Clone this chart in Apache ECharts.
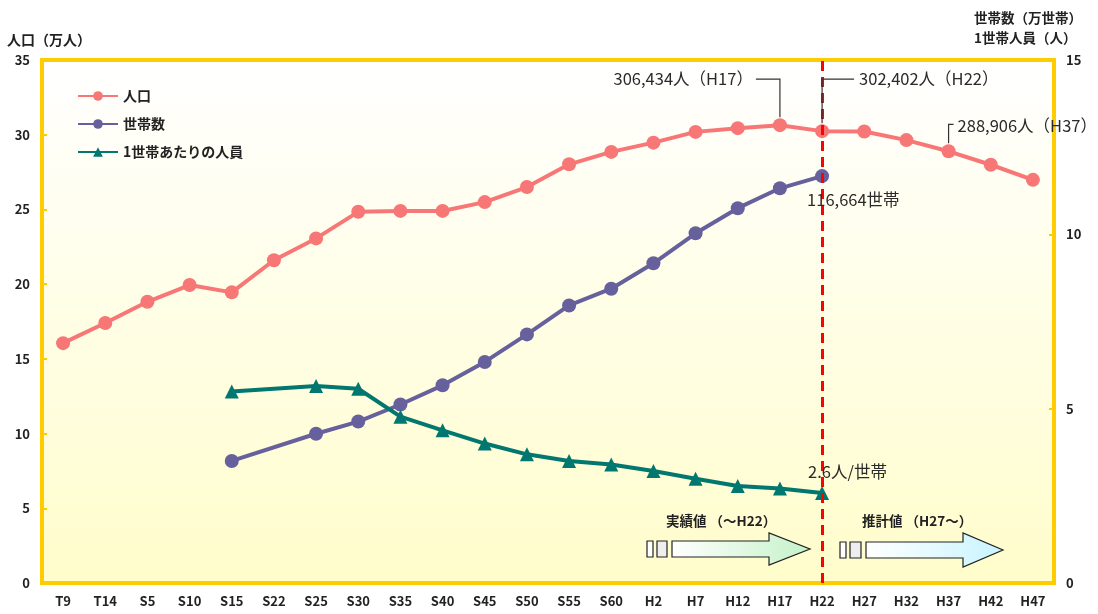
<!DOCTYPE html>
<html><head><meta charset="utf-8">
<script src="https://cdn.jsdelivr.net/npm/echarts@6/dist/echarts.min.js"></script>
<style>html,body{margin:0;padding:0;background:#fff}#c{width:1098px;height:614px}</style>
</head><body><div id="c"></div>
<script>
const categories = ['T9','T14','S5','S10','S15','S22','S25','S30','S35','S40','S45','S50','S55','S60','H2','H7','H12','H17','H22','H27','H32','H37','H42','H47'];
const population = [16.05,17.4,18.82,19.94,19.45,21.6,23.06,24.84,24.9,24.9,25.49,26.5,28.02,28.85,29.47,30.19,30.44,30.64,30.24,30.22,29.64,28.89,27.99,26.98];
const households = [null,null,null,null,3.5,null,4.28,4.63,5.12,5.67,6.34,7.13,7.96,8.44,9.17,10.03,10.75,11.32,11.67,null,null,null,null,null];
const perHousehold = [null,null,null,null,5.49,null,5.65,5.57,4.77,4.38,4.0,3.69,3.5,3.4,3.21,2.99,2.78,2.71,2.58,null,null,null,null,null];
const leftTicks = {min:0,max:35,interval:5};
const rightTicks = {min:0,max:15,interval:5};

const FONT = '"Noto Sans CJK JP", "Noto Sans", sans-serif';
const YEL = '#FFCC00';
const chart = echarts.init(document.getElementById('c'));
const labelStyle = {fontFamily: FONT, fontSize: 13, fontWeight: 'bold', color: '#222'};

chart.setOption({
  animation: false,
  grid: {left: 42, right: 44, top: 60, bottom: 31, show: true, borderWidth: 4, borderColor: YEL,
    backgroundColor: {type: 'linear', x: 0, y: 0, x2: 0, y2: 1, colorStops: [{offset: 0, color: '#FFFFFF'}, {offset: 1, color: '#FFFDCB'}]}},
  legend: {orient: 'vertical', left: 72, top: 84, itemWidth: 40, itemHeight: 12, itemGap: 14,
    textStyle: {fontFamily: FONT, fontSize: 14, fontWeight: 'bold', color: '#222'},
    data: ['人口', '世帯数', '1世帯あたりの人員']},
  xAxis: {type: 'category', data: categories, boundaryGap: true,
    axisLine: {lineStyle: {color: YEL, width: 4}},
    axisTick: {inside: true, length: 5, lineStyle: {color: YEL, width: 2}},
    axisLabel: Object.assign({margin: 12, interval: 0}, labelStyle)},
  yAxis: [
    {type: 'value', min: leftTicks.min, max: leftTicks.max, interval: leftTicks.interval,
      axisLine: {show: true, lineStyle: {color: YEL, width: 4}},
      axisTick: {show: true, inside: true, length: 5, lineStyle: {color: YEL, width: 2}},
      splitLine: {show: false}, axisLabel: Object.assign({margin: 12}, labelStyle)},
    {type: 'value', min: rightTicks.min, max: rightTicks.max, interval: rightTicks.interval,
      axisLine: {show: true, lineStyle: {color: YEL, width: 4}},
      axisTick: {show: true, inside: true, length: 5, lineStyle: {color: YEL, width: 2}},
      splitLine: {show: false}, axisLabel: Object.assign({margin: 12}, labelStyle)}
  ],
  series: [
    {name: '人口', type: 'line', data: population, yAxisIndex: 0, symbol: 'circle', symbolSize: 14,
      itemStyle: {color: '#F77777'}, lineStyle: {width: 4, color: '#F77777'}, z: 3,
      markLine: {silent: true, symbol: 'none', label: {show: false},
        lineStyle: {color: '#FF0000', width: 3, type: [10, 6]}, data: [{xAxis: 'H22'}]}},
    {name: '世帯数', type: 'line', data: households, yAxisIndex: 1, connectNulls: true, symbol: 'circle', symbolSize: 14,
      itemStyle: {color: '#66619C'}, lineStyle: {width: 4, color: '#66619C'}, z: 3},
    {name: '1世帯あたりの人員', type: 'line', data: perHousehold, yAxisIndex: 1, connectNulls: true, symbol: 'triangle', symbolSize: 14,
      itemStyle: {color: '#00776F'}, lineStyle: {width: 4, color: '#00776F'}, z: 3}
  ]
});

function px(seriesIdx, cat, val) {
  return chart.convertToPixel({seriesIndex: seriesIdx}, [cat, val]);
}
const iH17 = categories.indexOf('H17'), iH22 = categories.indexOf('H22'), iH37 = categories.indexOf('H37');
const pH17 = px(0, 'H17', population[iH17]);
const pH22 = px(0, 'H22', population[iH22]);
const pH37 = px(0, 'H37', population[iH37]);
const hH22 = px(1, 'H22', households[iH22]);
const tH22 = px(2, 'H22', perHousehold[iH22]);

const annStyle = {fontFamily: FONT, fontSize: 16.5, fill: '#2a2a2a'};
const leader = {stroke: '#333', lineWidth: 1.2, fill: null};
function arrowShape(x0, x1, x2, yc, bh, hh) {
  return [[x0, yc - bh], [x1, yc - bh], [x1, yc - hh], [x2, yc], [x1, yc + hh], [x1, yc + bh], [x0, yc + bh]];
}
function grad(c) {
  return {type: 'linear', x: 0, y: 0, x2: 1, y2: 0, colorStops: [{offset: 0, color: '#FFFFFF'}, {offset: 1, color: c}]};
}
const small = {stroke: '#222', lineWidth: 1.2};
const graphics = [
  {type: 'text', left: 7, top: 33, style: {text: '人口（万人）', font: 'bold 14px ' + FONT, fill: '#222'}},
  {type: 'text', right: 16, top: 8, style: {text: '世帯数（万世帯）\n1世帯人員（人）', font: 'bold 13.5px ' + FONT, fill: '#222', align: 'right', lineHeight: 20}},
  // H17 annotation
  {type: 'polyline', shape: {points: [[pH17[0], pH17[1] - 8], [pH17[0], pH17[1] - 46], [pH17[0] - 24, pH17[1] - 46]]}, style: leader, z: 10},
  {type: 'text', x: pH17[0] - 27, y: pH17[1] - 46, style: Object.assign({text: '306,434人（H17）', align: 'right', verticalAlign: 'middle'}, annStyle), z: 10},
  // H22 annotation
  {type: 'polyline', shape: {points: [[pH22[0], pH22[1] - 8], [pH22[0], pH22[1] - 52], [pH22[0] + 32, pH22[1] - 52]]}, style: leader, z: 10},
  {type: 'text', x: pH22[0] + 37, y: pH22[1] - 52, style: Object.assign({text: '302,402人（H22）', align: 'left', verticalAlign: 'middle'}, annStyle), z: 10},
  // H37 annotation
  {type: 'polyline', shape: {points: [[pH37[0], pH37[1] - 8], [pH37[0], pH37[1] - 27], [pH37[0] + 5, pH37[1] - 27]]}, style: leader, z: 10},
  {type: 'text', x: pH37[0] + 9, y: pH37[1] - 26, style: Object.assign({text: '288,906人（H37）', align: 'left', verticalAlign: 'middle'}, annStyle), z: 10},
  {type: 'text', x: hH22[0] - 15, y: hH22[1] + 24, style: Object.assign({text: '116,664世帯', align: 'left', verticalAlign: 'middle'}, annStyle), z: 10},
  {type: 'text', x: tH22[0] - 14, y: tH22[1] - 21, style: Object.assign({text: '2.6人/世帯', align: 'left', verticalAlign: 'middle'}, annStyle), z: 10},
  // arrows
  {type: 'text', x: 666, y: 521, style: {text: '実績値 （～H22）', font: 'bold 13.5px ' + FONT, fill: '#222', verticalAlign: 'middle'}},
  {type: 'rect', shape: {x: 647, y: 541, width: 6, height: 16}, style: Object.assign({fill: '#fff'}, small)},
  {type: 'rect', shape: {x: 657, y: 541, width: 10, height: 16}, style: Object.assign({fill: '#eee'}, small)},
  {type: 'polygon', shape: {points: arrowShape(672, 769, 810, 549, 8, 16)}, style: {fill: grad('#C4F2C8'), stroke: '#222', lineWidth: 1.2}},
  {type: 'text', x: 862, y: 521, style: {text: '推計値 （H27～）', font: 'bold 13.5px ' + FONT, fill: '#222', verticalAlign: 'middle'}},
  {type: 'rect', shape: {x: 840, y: 542, width: 6, height: 16}, style: Object.assign({fill: '#fff'}, small)},
  {type: 'rect', shape: {x: 850, y: 542, width: 11, height: 16}, style: Object.assign({fill: '#eee'}, small)},
  {type: 'polygon', shape: {points: arrowShape(866, 963, 1003, 550, 8, 17)}, style: {fill: grad('#C8F4FF'), stroke: '#222', lineWidth: 1.2}}
];
chart.setOption({graphic: graphics});
</script>
</body></html>
